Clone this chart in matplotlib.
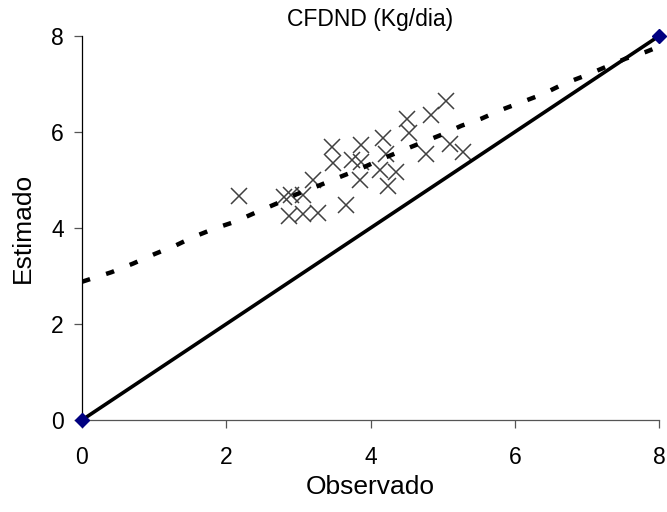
import matplotlib
matplotlib.use("Agg")
import matplotlib.pyplot as plt

plt.rcParams["font.family"] = ["Liberation Sans", "DejaVu Sans"]

obs = [2.17, 2.80, 2.90, 3.07, 2.87, 3.07, 3.27, 3.20, 3.46, 3.48,
       3.66, 3.74, 3.87, 3.87, 3.85, 4.13, 4.17, 4.22, 4.24, 4.36,
       4.50, 4.54, 4.77, 4.84, 5.05, 5.10, 5.28]
est = [4.67, 4.65, 4.69, 4.69, 4.24, 4.29, 4.31, 5.00, 5.69, 5.35,
       4.48, 5.42, 5.38, 5.73, 5.00, 5.21, 5.87, 5.55, 4.88, 5.17,
       6.28, 5.97, 5.55, 6.35, 6.65, 5.76, 5.59]

# dashed trend curve
trend_x = [0.0, 0.41, 0.71, 1.01, 1.29, 1.54, 1.84, 2.12, 2.42, 2.70,
           2.97, 3.27, 3.57, 3.84, 4.13, 4.40, 4.68, 4.98, 5.26, 5.54,
           5.81, 6.11, 6.39, 6.69, 6.97, 7.27, 7.54, 7.82, 8.0]
trend_y = [2.88, 3.08, 3.26, 3.46, 3.63, 3.81, 3.99, 4.13, 4.33, 4.51,
           4.70, 4.875, 5.06, 5.22, 5.42, 5.59, 5.76, 5.94, 6.13, 6.28,
           6.46, 6.63, 6.79, 7.01, 7.17, 7.36, 7.53, 7.67, 7.78]

# 1:1 line
ref_x = [0, 8]
ref_y = [0, 8]

fig = plt.figure(figsize=(6.67, 5.12), dpi=100)
ax = fig.add_axes([82 / 667, 92 / 512, 577 / 667, 384 / 512])

ax.plot(obs, est, linestyle="none", marker="x", markersize=12,
        markeredgewidth=1.1, color="#404040", zorder=3)
ax.plot(trend_x, trend_y, color="black", linewidth=3.2,
        dashes=(1.9, 3.8), zorder=4)
ax.plot(ref_x, ref_y, color="black", linewidth=2.6, zorder=5)
ax.plot(ref_x, ref_y, linestyle="none", marker="D", markersize=7,
        color="#000080", clip_on=False, zorder=6)

ax.set_xlim(0, 8)
ax.set_ylim(0, 8)
ax.set_xticks([0, 2, 4, 6, 8])
ax.set_yticks([0, 2, 4, 6, 8])

for side in ("top", "right"):
    ax.spines[side].set_visible(False)
ax.spines["left"].set_color("black")
ax.spines["bottom"].set_color("#555555")
ax.spines["left"].set_linewidth(0.9)
ax.spines["bottom"].set_linewidth(0.9)

ax.tick_params(axis="both", direction="out", length=6, width=0.9,
               color="#555555", labelsize=16.5)
ax.tick_params(axis="x", pad=13)
ax.tick_params(axis="y", pad=7)

ax.set_title("CFDND (Kg/dia)", fontsize=16.5, pad=7)
ax.set_xlabel("Observado", fontsize=19, labelpad=4)
ax.set_ylabel("Estimado", fontsize=19, labelpad=12)

fig.savefig("out.png", dpi=100)
